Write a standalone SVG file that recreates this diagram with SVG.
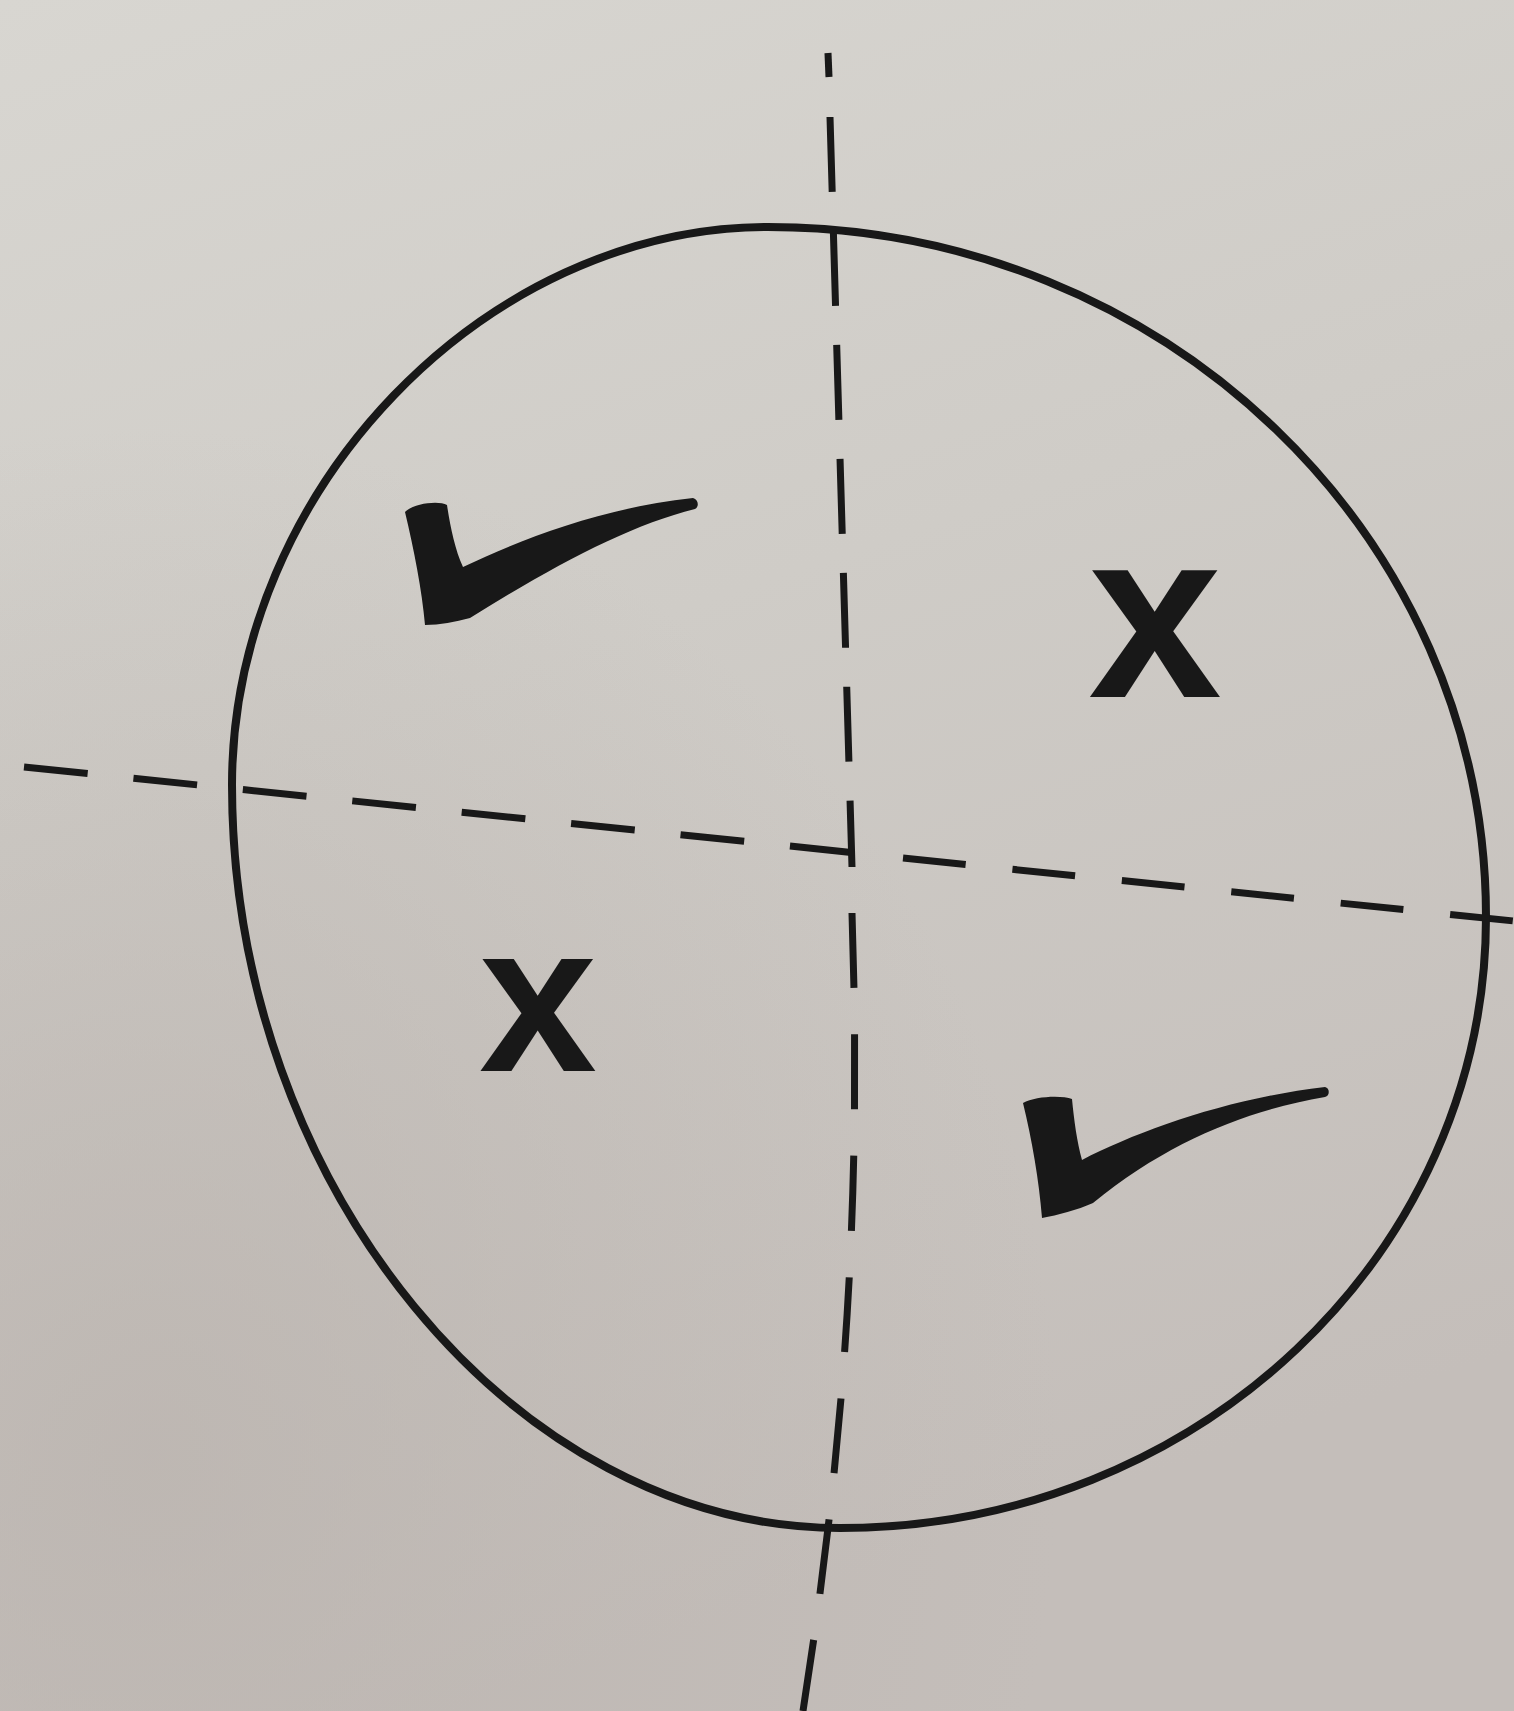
<svg xmlns="http://www.w3.org/2000/svg" width="1514" height="1711" viewBox="0 0 1514 1711">
  <defs>
    <linearGradient id="paper" x1="0" y1="0" x2="0.3" y2="1">
      <stop offset="0" stop-color="#d8d6d1"/>
      <stop offset="0.45" stop-color="#cfccc7"/>
      <stop offset="1" stop-color="#c4beba"/>
    </linearGradient>
    <radialGradient id="shade" cx="0.1" cy="0.85" r="0.6">
      <stop offset="0" stop-color="#b9b2ad" stop-opacity="0.7"/>
      <stop offset="1" stop-color="#b9b2ad" stop-opacity="0"/>
    </radialGradient>
    <style>
      .ink { fill: none; stroke: #181818; stroke-linecap: butt; }
      .circle { stroke-width: 8; }
      .dash { stroke-width: 7; }
      .mark { fill: #181818; stroke: none; }
      .x { font-family: "Liberation Sans", Arial, sans-serif; font-weight: bold; fill: #181818; text-anchor: middle; }
    </style>
  </defs>
  <rect x="0" y="0" width="1514" height="1711" fill="url(#paper)"/>
  <rect x="0" y="0" width="1514" height="1711" fill="url(#shade)"/>

  <g id="connectors">
    <path id="h-axis-left" class="ink dash" d="M24,767 L857,853" stroke-dasharray="64 46"/>
    <path id="h-axis-right" class="ink dash" d="M903,858 L1514,921" stroke-dasharray="63 47"/>
    <path id="v-axis-top-tick" class="ink dash" d="M828,53 L829,77"/>
    <path id="v-axis-upper" class="ink dash" d="M830,117 L852,867" stroke-dasharray="75 39"/>
    <path id="v-axis-lower" class="ink dash" d="M852,913 C860,1150 852,1400 803,1711" stroke-dasharray="75 46.5"/>
  </g>

  <g id="circle">
    <path class="ink circle" d="M768,227 C1164.5,227 1486,536 1486,917 C1486,1254 1197,1528 840,1528 C515,1528 232,1185 232,785 C232,490 485,227 768,227 Z"/>
  </g>

  <g id="check-top-left">
    <path class="mark" d="M405,512 C412,504 438,500 447,505 C450,525 455,550 463,567 C520,540 600,508 693,498 C699,500 699,507 695,509 C630,525 555,565 470,618 C455,622 440,625 425,625 C422,590 414,550 405,512 Z"/>
  </g>
  <g id="x-top-right">
    <text class="x" x="1155" y="697" font-size="240">x</text>
  </g>
  <g id="x-bottom-left">
    <text class="x" x="538" y="1071" font-size="212">x</text>
  </g>
  <g id="check-bottom-right">
    <path class="mark" d="M1023,1103 C1035,1096 1062,1095 1072,1099 C1074,1120 1077,1142 1082,1160 C1140,1130 1230,1098 1325,1087 C1330,1088 1330,1096 1325,1097 C1250,1110 1170,1140 1093,1203 C1077,1210 1058,1215 1042,1218 C1039,1180 1032,1140 1023,1103 Z"/>
  </g>
</svg>
